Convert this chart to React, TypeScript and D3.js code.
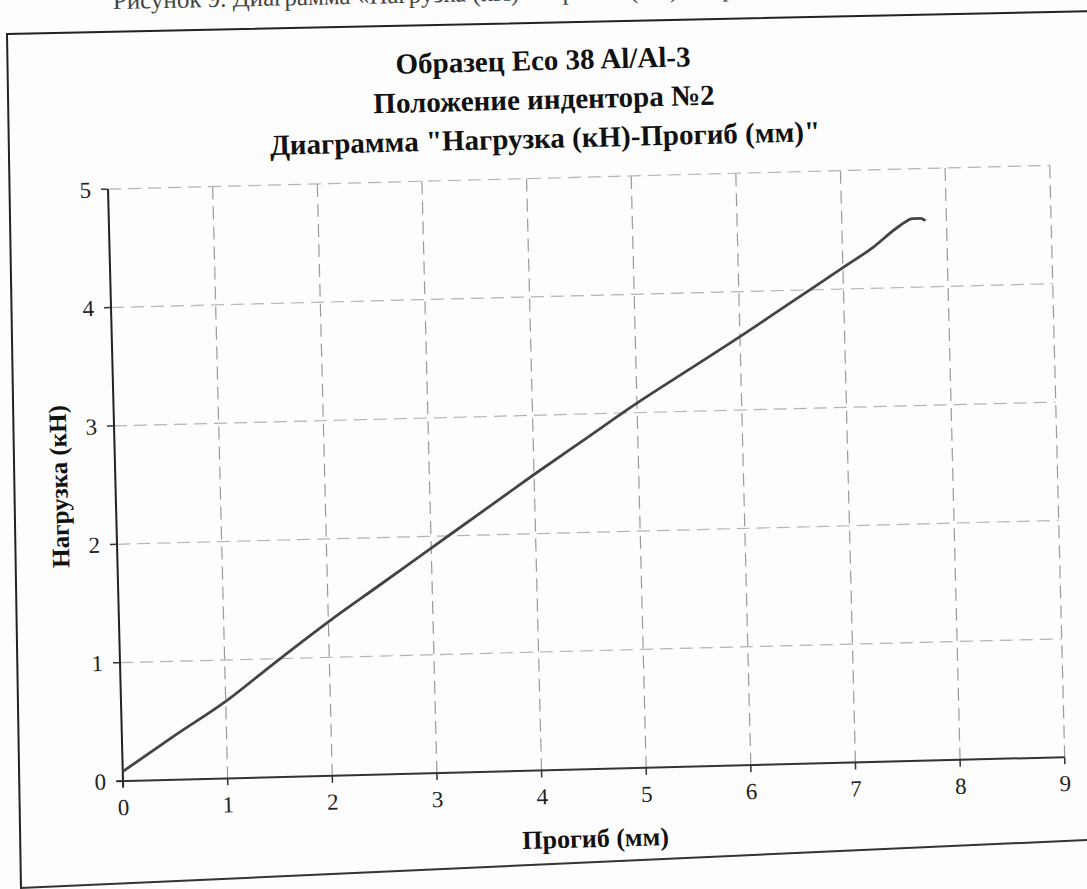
import React from "react";
import * as d3 from "d3";

// ---- data ----
const deflection = [0, 0.5, 1, 1.5, 2, 2.5, 3, 3.5, 4, 4.5, 5, 5.5, 6, 6.5, 7, 7.3, 7.55, 7.68, 7.75, 7.8];
const load = [0.08, 0.37, 0.65, 0.98, 1.3, 1.6, 1.9, 2.2, 2.5, 2.79, 3.08, 3.35, 3.62, 3.9, 4.18, 4.35, 4.52, 4.58, 4.58, 4.56];
const xTicks = [0, 1, 2, 3, 4, 5, 6, 7, 8, 9];
const yTicks = [0, 1, 2, 3, 4, 5];
const titleLines = ["Образец Eco 38 Al/Al-3", "Положение индентора №2", 'Диаграмма "Нагрузка (кН)-Прогиб (мм)"'];
const xTitle = "Прогиб (мм)";
const yTitle = "Нагрузка (кН)";
const caption = "Рисунок 9. Диаграмма «Нагрузка (кН) – Прогиб (мм)» образца";

const W = 1087;
const H = 889;
const OX = 123;
const OY = 781;
const PW = 942;
const PH = 592;
const TILT = -1.45;
const serif = "'Liberation Serif', 'Times New Roman', serif";

export default function App() {
  const x = d3.scaleLinear().domain([0, 9]).range([OX, OX + PW]);
  const y = d3.scaleLinear().domain([0, 5]).range([OY, OY - PH]);
  const pts = deflection.map((d, i) => [d, load[i]] as [number, number]);
  const line = d3
    .line<[number, number]>()
    .x((d) => x(d[0]))
    .y((d) => y(d[1]))
    .curve(d3.curveMonotoneX);

  return (
    <svg
      width={W}
      height={H}
      viewBox={`0 0 ${W} ${H}`}
      style={{ position: "absolute", left: 0, top: 0, background: "#fff" }}
    >
      <rect x={0} y={0} width={W} height={H} fill="#fdfdfd" />
      {/* caption, cropped at the top edge as in the scan */}
      <text x={113} y={9} fontFamily={serif} fontSize={25} fill="#444" transform="rotate(-1.2,113,9)">
        {caption}
      </text>
      {/* outer frame */}
      <polyline points="1100,11 7,34 21,889" fill="none" stroke="#222" strokeWidth={2} />
      <line x1={20} y1={888} x2={1087} y2={840} stroke="#333" strokeWidth={2} />

      {/* title */}
      <g
        transform={`translate(544,0) rotate(${TILT},0,100)`}
        fontFamily={serif}
        fontWeight="bold"
        fontSize={29}
        fill="#111"
        textAnchor="middle"
      >
        {titleLines.map((t, i) => (
          <text key={i} x={0} y={70 + i * 39}>
            {t}
          </text>
        ))}
      </g>

      {/* plot group, tilted like the scan */}
      <g transform={`rotate(${TILT},${OX},${OY})`}>
        {/* grid */}
        {xTicks.slice(1).map((t) => (
          <line key={"gx" + t} x1={x(t)} x2={x(t)} y1={y(5)} y2={y(0)} stroke="#9a9a9a" strokeWidth={1.2} strokeDasharray="13,7" />
        ))}
        {yTicks.slice(1).map((t) => (
          <line key={"gy" + t} x1={x(0)} x2={x(9)} y1={y(t)} y2={y(t)} stroke="#b4b4b4" strokeWidth={1.2} strokeDasharray="13,7" />
        ))}
        {/* axes */}
        <line x1={x(0)} x2={x(0)} y1={y(5)} y2={y(0) + 6} stroke="#222" strokeWidth={2} />
        <line x1={x(0) - 6} x2={x(9)} y1={y(0)} y2={y(0)} stroke="#333" strokeWidth={2} />
        {xTicks.map((t) => (
          <g key={"xt" + t}>
            <line x1={x(t)} x2={x(t)} y1={y(0)} y2={y(0) + 7} stroke="#333" strokeWidth={1.5} />
            <text x={x(t)} y={y(0) + 34} fontFamily={serif} fontSize={23} textAnchor="middle" fill="#222">
              {t}
            </text>
          </g>
        ))}
        {yTicks.map((t) => (
          <g key={"yt" + t}>
            <line x1={x(0) - 7} x2={x(0)} y1={y(t)} y2={y(t)} stroke="#333" strokeWidth={1.5} />
            <text x={x(0) - 17} y={y(t) + 8} fontFamily={serif} fontSize={23} textAnchor="end" fill="#222">
              {t}
            </text>
          </g>
        ))}
        {/* data line */}
        <path d={line(pts) || ""} fill="none" stroke="#444" strokeWidth={2.8} strokeLinejoin="round" />
        {/* axis titles */}
        <text x={OX + PW / 2} y={OY + 78} fontFamily={serif} fontWeight="bold" fontSize={26} textAnchor="middle" fill="#111">
          {xTitle}
        </text>
        <text
          transform={`translate(${OX - 48},${OY - 296}) rotate(-90)`}
          fontFamily={serif}
          fontWeight="bold"
          fontSize={25}
          textAnchor="middle"
          fill="#111"
        >
          {yTitle}
        </text>
      </g>
    </svg>
  );
}
